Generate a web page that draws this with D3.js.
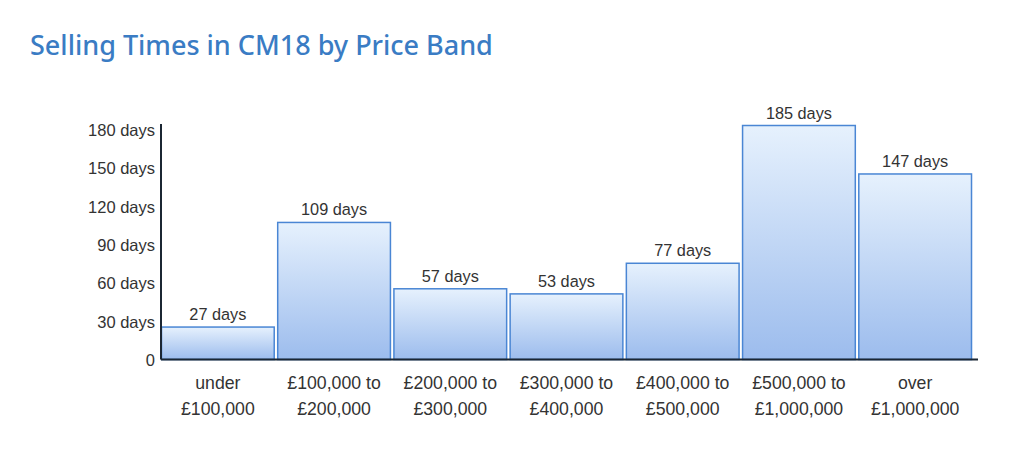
<!DOCTYPE html>
<html>
<head>
<meta charset="utf-8">
<script src="https://cdn.jsdelivr.net/npm/d3@7/dist/d3.min.js"></script>
<style>
  html, body { margin: 0; padding: 0; background: #ffffff; }
  svg { display: block; }
</style>
</head>
<body>
<svg id="chart" width="1024" height="473"></svg>
<script>
const title = "Selling Times in CM18 by Price Band";
const categories = [
  ["under", "£100,000"],
  ["£100,000 to", "£200,000"],
  ["£200,000 to", "£300,000"],
  ["£300,000 to", "£400,000"],
  ["£400,000 to", "£500,000"],
  ["£500,000 to", "£1,000,000"],
  ["over", "£1,000,000"]
];
const values = [27, 109, 57, 53, 77, 185, 147];
const yTicks = [0, 30, 60, 90, 120, 150, 180];
const unit = "days";

const svg = d3.select("#chart");
const W = 1024, H = 473;
svg.append("rect").attr("width", W).attr("height", H).attr("fill", "#fff");

svg.append("text")
  .attr("x", 30).attr("y", 55)
  .attr("fill", "#3a7cc4")
  .attr("font-family", "'Noto Sans', 'Open Sans', sans-serif")
  .attr("font-size", 27)
  .attr("font-weight", 500)
  .text(title);

const mLeft = 161, mRight = 978, axisY = 359.5, mTop = 124;

const x = d3.scaleBand()
  .domain(d3.range(categories.length))
  .range([158, 975])
  .padding(0.03);

const y = d3.scaleLinear()
  .domain([0, d3.max(values)])
  .range([361.5, 125.5]);

const defs = svg.append("defs");
const grad = defs.append("linearGradient")
  .attr("id", "barGrad")
  .attr("x1", 0).attr("y1", 0).attr("x2", 0).attr("y2", 1);
grad.append("stop").attr("offset", "0%").attr("stop-color", "#e6f1fd");
grad.append("stop").attr("offset", "100%").attr("stop-color", "#9cbced");

const font = "'Liberation Sans', Arial, sans-serif";

// bars
svg.append("g").selectAll("rect")
  .data(values)
  .join("rect")
  .attr("x", (d, i) => x(i))
  .attr("y", d => y(d))
  .attr("width", x.bandwidth())
  .attr("height", d => axisY - y(d))
  .attr("fill", "url(#barGrad)")
  .attr("stroke", "#4a86d4")
  .attr("stroke-width", 1.5);

// value labels
svg.append("g").selectAll("text")
  .data(values)
  .join("text")
  .attr("x", (d, i) => x(i) + x.bandwidth() / 2)
  .attr("y", d => y(d) - 7)
  .attr("text-anchor", "middle")
  .attr("font-family", font)
  .attr("font-size", 16.3)
  .attr("fill", "#333")
  .text(d => d + " " + unit);

// y axis
const yAxis = d3.axisLeft(y)
  .tickValues(yTicks)
  .tickSize(0)
  .tickPadding(6)
  .tickFormat(d => d === 0 ? "0" : d + " " + unit);
const gy = svg.append("g").attr("transform", `translate(${mLeft},-1.5)`).call(yAxis);
gy.select(".domain").remove();
gy.selectAll("text")
  .attr("font-family", font)
  .attr("font-size", 16.5)
  .attr("fill", "#333");

svg.append("line")
  .attr("x1", mLeft).attr("x2", mLeft)
  .attr("y1", mTop).attr("y2", axisY)
  .attr("stroke", "#1b2633").attr("stroke-width", 2);

// x axis
svg.append("line")
  .attr("x1", mLeft).attr("x2", mRight)
  .attr("y1", axisY).attr("y2", axisY)
  .attr("stroke", "#1b2633").attr("stroke-width", 2);

const xl = svg.append("g").selectAll("text")
  .data(categories)
  .join("text")
  .attr("x", (d, i) => x(i) + x.bandwidth() / 2)
  .attr("y", 389)
  .attr("text-anchor", "middle")
  .attr("font-family", font)
  .attr("font-size", 17.7)
  .attr("fill", "#333");
xl.each(function(d) {
  const t = d3.select(this);
  d.forEach((line, j) => {
    t.append("tspan")
      .attr("x", t.attr("x"))
      .attr("dy", j === 0 ? 0 : 26)
      .text(line);
  });
});
</script>
</body>
</html>
